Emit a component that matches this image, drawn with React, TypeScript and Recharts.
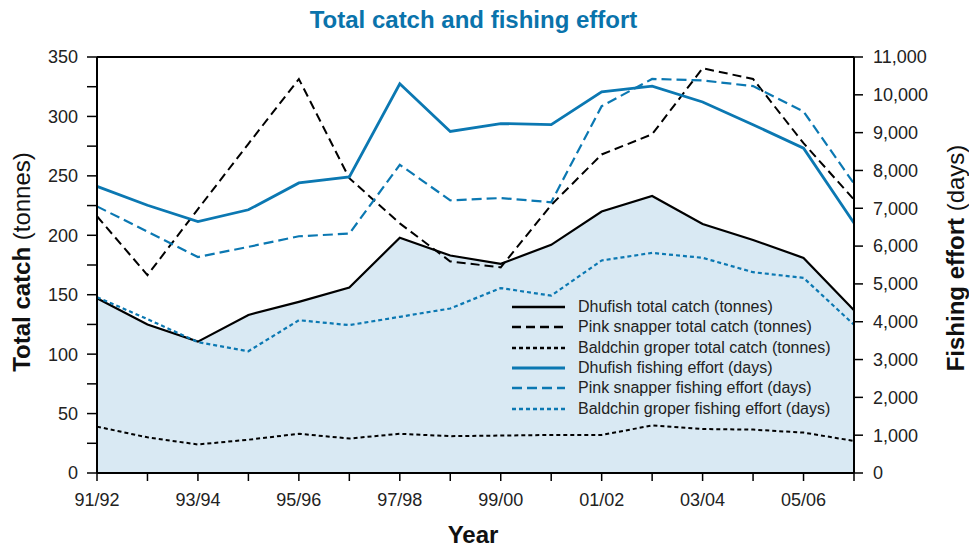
import React from 'react';
import {
  Area,
  ComposedChart,
  Label,
  Line,
  ReferenceLine,
  XAxis,
  YAxis,
} from 'recharts';

const YEARS = [
  '91/92', '92/93', '93/94', '94/95', '95/96', '96/97', '97/98', '98/99',
  '99/00', '00/01', '01/02', '02/03', '03/04', '04/05', '05/06', '06/07',
];

// total catch (tonnes)
const DHUFISH_CATCH = [147, 125, 110.5, 133, 144, 156, 198, 183, 176, 192, 220, 233, 209.5, 196, 181, 137];
const PINK_CATCH = [216, 166.5, 222, 277, 331.5, 248, 210, 178, 173, 225.5, 268, 285, 340.5, 331.5, 277.5, 230];
const BALDCHIN_CATCH = [39, 30, 24, 28, 33, 29, 33, 31, 31.5, 32, 32, 40, 37, 36.5, 34, 27];

// fishing effort (days)
const DHUFISH_EFFORT = [7580, 7080, 6650, 6960, 7670, 7830, 10290, 9030, 9240, 9210, 10080, 10230, 9810, 9210, 8590, 6610];
const PINK_EFFORT = [7050, 6380, 5710, 5980, 6260, 6330, 8150, 7210, 7270, 7160, 9700, 10420, 10380, 10230, 9560, 7650];
const BALDCHIN_EFFORT = [4650, 4070, 3460, 3220, 4040, 3910, 4130, 4350, 4890, 4690, 5620, 5820, 5690, 5310, 5160, 3920];

const CATCH_TICKS = [0, 25, 50, 75, 100, 125, 150, 175, 200, 225, 250, 275, 300, 325, 350];
const EFFORT_TICKS = [0, 1000, 2000, 3000, 4000, 5000, 6000, 7000, 8000, 9000, 10000, 11000];

const data = YEARS.map((year, i) => ({
  year,
  dhufishCatch: DHUFISH_CATCH[i],
  pinkCatch: PINK_CATCH[i],
  baldchinCatch: BALDCHIN_CATCH[i],
  dhufishEffort: DHUFISH_EFFORT[i],
  pinkEffort: PINK_EFFORT[i],
  baldchinEffort: BALDCHIN_EFFORT[i],
}));

const BLUE = '#0b78b2';
const FILL = '#d9e9f3';
const FONT = '"Liberation Sans", Arial, sans-serif';

const SERIES = [
  { key: 'dhufishCatch', name: 'Dhufish total catch (tonnes)', color: '#000', dash: undefined, width: 2.2, axis: 'left' },
  { key: 'pinkCatch', name: 'Pink snapper total catch (tonnes)', color: '#000', dash: '9 5', width: 2, axis: 'left' },
  { key: 'baldchinCatch', name: 'Baldchin groper total catch (tonnes)', color: '#000', dash: '4 3', width: 2, axis: 'left' },
  { key: 'dhufishEffort', name: 'Dhufish fishing effort (days)', color: BLUE, dash: undefined, width: 2.8, axis: 'right' },
  { key: 'pinkEffort', name: 'Pink snapper fishing effort (days)', color: BLUE, dash: '10 5', width: 2.2, axis: 'right' },
  { key: 'baldchinEffort', name: 'Baldchin groper fishing effort (days)', color: BLUE, dash: '4 3', width: 2.2, axis: 'right' },
];

const tickStyle = { fill: '#222', fontSize: 18, fontFamily: FONT };

function LeftTitle() {
  return (
    <text
      transform="translate(30, 262) rotate(-90)"
      textAnchor="middle"
      fontSize={24}
      fontFamily={FONT}
      fill="#111"
    >
      <tspan fontWeight="bold">Total catch</tspan>
      <tspan> (tonnes)</tspan>
    </text>
  );
}

function RightTitle() {
  return (
    <text
      transform="translate(964, 258) rotate(-90)"
      textAnchor="middle"
      fontSize={24}
      fontFamily={FONT}
      fill="#111"
    >
      <tspan fontWeight="bold">Fishing effort</tspan>
      <tspan> (days)</tspan>
    </text>
  );
}

function XTitle() {
  return (
    <text x={473} y={543} textAnchor="middle" fontSize={24} fontWeight="bold" fontFamily={FONT} fill="#111">
      Year
    </text>
  );
}

function LegendBox() {
  return (
    <div
      style={{
        position: 'absolute',
        left: 510,
        top: 297,
        fontFamily: FONT,
        fontSize: 16,
        color: '#222',
      }}
    >
      {SERIES.map((s) => (
        <div key={s.key} style={{ display: 'flex', alignItems: 'center', height: 20.3 }}>
          <svg width={56} height={10} style={{ marginRight: 12 }}>
            <line x1={2} y1={5} x2={55} y2={5} stroke={s.color} strokeWidth={s.width + 0.4} strokeDasharray={s.dash} />
          </svg>
          <span style={{ whiteSpace: 'nowrap' }}>{s.name}</span>
        </div>
      ))}
    </div>
  );
}

export default function App() {
  return (
    <div style={{ position: 'absolute', left: 0, top: 0, width: 969, height: 547, background: '#fff' }}>
      <div
        style={{
          position: 'absolute',
          left: 0,
          width: 947,
          top: 6,
          textAlign: 'center',
          fontFamily: FONT,
          fontWeight: 'bold',
          fontSize: 24,
          color: '#0a73ab',
        }}
      >
        Total catch and fishing effort
      </div>
      <ComposedChart width={969} height={547} data={data} margin={{ top: 57, right: 0, bottom: 44, left: 0 }}>
        <XAxis
          dataKey="year"
          height={30}
          interval={0}
          tickSize={8}
          tickMargin={12}
          tick={tickStyle}
          tickFormatter={(v: string, i: number) => (i % 2 === 0 ? v : '')}
          axisLine={{ stroke: '#000', strokeWidth: 2 }}
          tickLine={{ stroke: '#000', strokeWidth: 1.5 }}
        >
          <Label content={<XTitle />} />
        </XAxis>
        <YAxis
          yAxisId="left"
          width={97}
          domain={[0, 350]}
          ticks={CATCH_TICKS}
          interval={0}
          tickSize={10}
          tickMargin={9}
          tick={tickStyle}
          tickFormatter={(v: number) => (v % 50 === 0 ? String(v) : '')}
          axisLine={{ stroke: '#000', strokeWidth: 2 }}
          tickLine={{ stroke: '#000', strokeWidth: 1.5 }}
        >
          <Label content={<LeftTitle />} />
        </YAxis>
        <YAxis
          yAxisId="right"
          orientation="right"
          width={115}
          domain={[0, 11000]}
          ticks={EFFORT_TICKS}
          interval={0}
          tickSize={9}
          tickMargin={10}
          tick={{ ...tickStyle, textAnchor: 'start' }}
          tickFormatter={(v: number) => v.toLocaleString('en-US')}
          axisLine={{ stroke: '#000', strokeWidth: 2 }}
          tickLine={{ stroke: '#000', strokeWidth: 1.5 }}
        >
          <Label content={<RightTitle />} />
        </YAxis>
        <ReferenceLine yAxisId="left" y={350} stroke="#000" strokeWidth={2} />
        <Area
          yAxisId="left"
          type="linear"
          dataKey="dhufishCatch"
          name="Dhufish total catch (tonnes)"
          stroke="#000"
          strokeWidth={2.2}
          fill={FILL}
          fillOpacity={1}
          isAnimationActive={false}
        />
        {SERIES.slice(1).map((s) => (
          <Line
            key={s.key}
            yAxisId={s.axis}
            type="linear"
            dataKey={s.key}
            name={s.name}
            stroke={s.color}
            strokeWidth={s.width}
            strokeDasharray={s.dash}
            dot={false}
            activeDot={false}
            isAnimationActive={false}
          />
        ))}
      </ComposedChart>
      <LegendBox />
    </div>
  );
}
